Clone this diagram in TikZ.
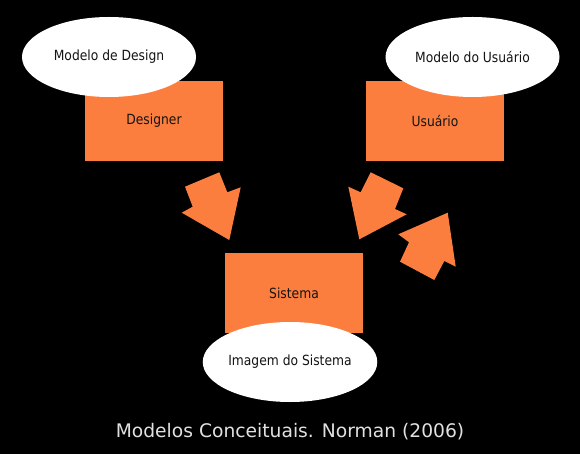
\documentclass[tikz,border=0pt]{standalone}
\usepackage{fontspec}
\setmainfont{DejaVu Sans}
\newfontfamily\labelfont[FakeStretch=0.88]{DejaVu Sans}
\usetikzlibrary{shapes.geometric}
\definecolor{boxorange}{RGB}{252,126,62}
\definecolor{captiongray}{RGB}{225,225,225}
\definecolor{labeltext}{RGB}{20,20,20}
\begin{document}
\begin{tikzpicture}[x=1pt,y=-1pt,
  boxnode/.style={rectangle, fill=boxorange, minimum width=138pt, minimum height=80pt, inner sep=0pt,
    font=\labelfont\fontsize{14}{16}\selectfont, text=labeltext},
  cloudnode/.style={ellipse, fill=white, minimum width=174pt, minimum height=80pt, inner sep=0pt,
    font=\labelfont\fontsize{14}{16}\selectfont, text=labeltext},
  blockarrow/.style={fill=boxorange}]
\fill[black] (0,0) rectangle (580,454);
\useasboundingbox (0,0) rectangle (580,454);
% boxes
\node[boxnode] (designer) at (154,121) {\raisebox{-1.5pt}{Designer}};
\node[boxnode] (usuario) at (435,121) {\raisebox{-1.5pt}{Usuário}};
\node[boxnode] (sistema) at (294,293) {\raisebox{-1.5pt}{Sistema}};
% ellipses
\node[cloudnode] (mdesign) at (109,57) {\raisebox{-1.5pt}{Modelo de Design}};
\node[cloudnode] (musuario) at (472.5,57) {\raisebox{-1.5pt}{Modelo do Usuário}};
\node[cloudnode] (imagem) at (290,362) {\raisebox{-1.5pt}{Imagem do Sistema}};
% block arrows
\fill[blockarrow] (185,186.7) -- (219.3,172.3) -- (227.3,192.3) -- (240.7,187.3) -- (229.3,240)
  -- (181.7,212.7) -- (192.7,206.7) -- cycle;
\fill[blockarrow] (403.3,188.3) -- (370.7,172.3) -- (360.7,192.3) -- (348.3,186.7) -- (359.3,239.3)
  -- (406.7,214.3) -- (395,209) -- cycle;
\fill[blockarrow] (447.7,212.7) -- (455.7,266.7) -- (444.3,261) -- (434.3,280) -- (400,261.7)
  -- (409,242.3) -- (398.3,234.3) -- cycle;
% caption
\node[anchor=base, text=captiongray, font=\fontsize{18.7}{22}\selectfont, inner sep=0pt] (caption) at (290,437)
  {Modelos Conceituais. Norman (2006)};
\end{tikzpicture}
\end{document}
